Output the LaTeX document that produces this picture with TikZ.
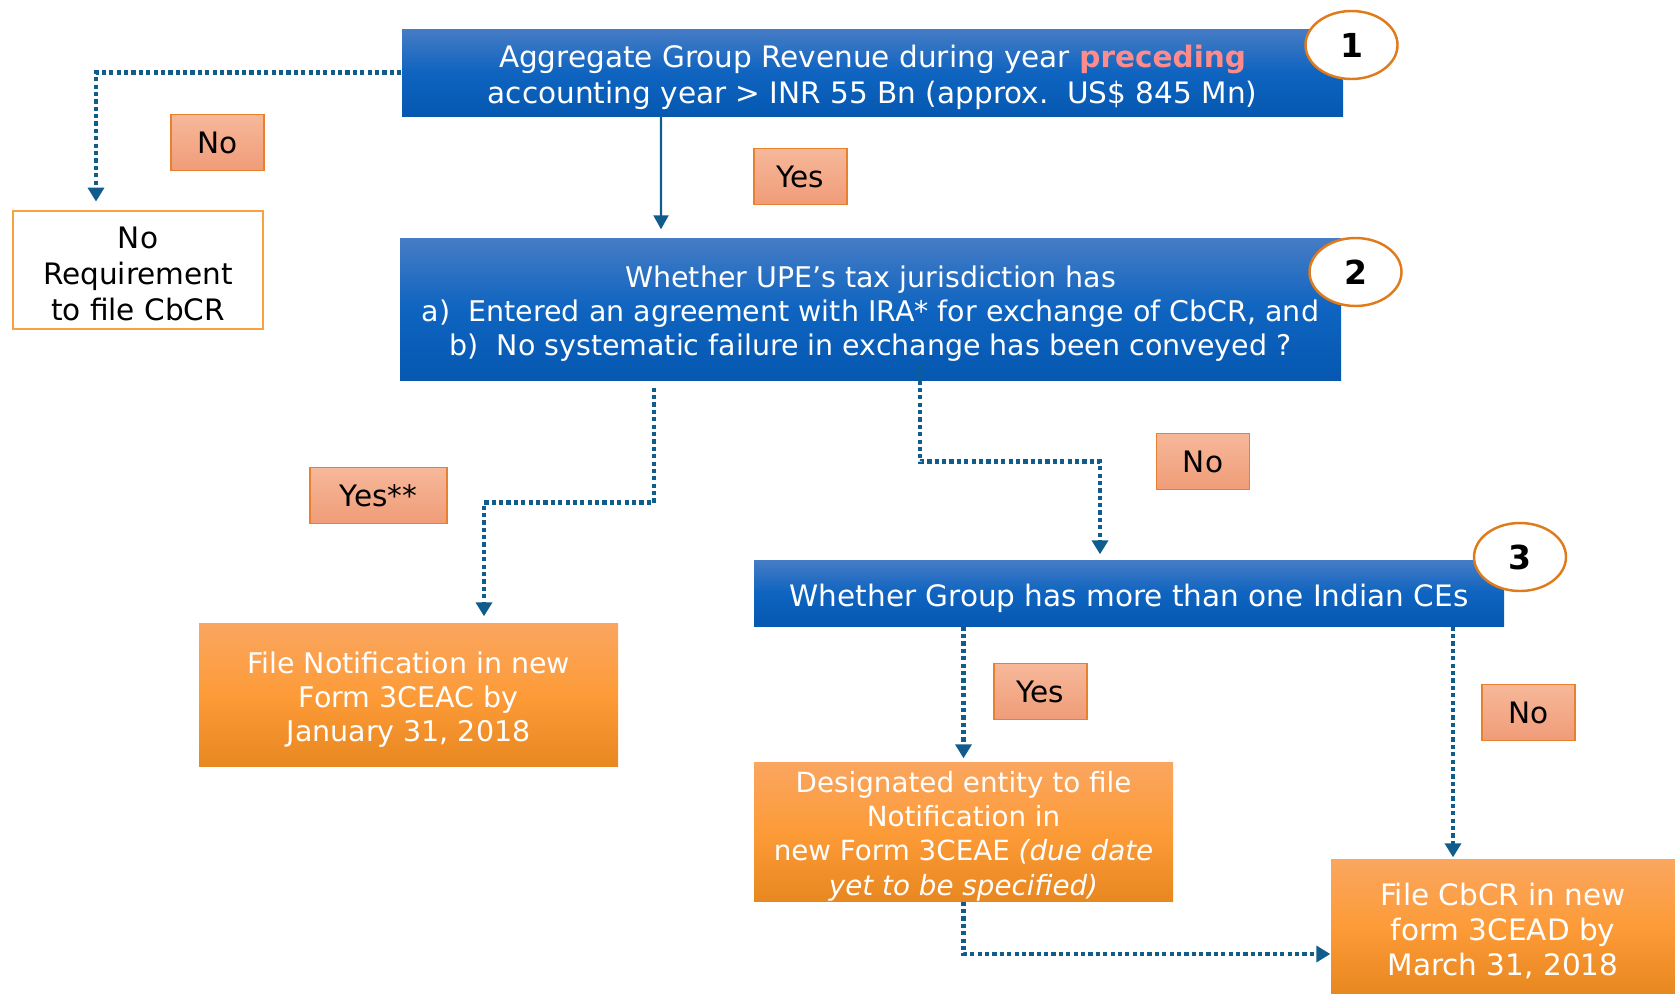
\documentclass[tikz,border=0pt]{standalone}
\usepackage{fontspec}
\setmainfont{DejaVu Sans}
\usepackage{xcolor}
\usetikzlibrary{arrows.meta, positioning, shapes.geometric, calc}

\definecolor{qtop}{RGB}{70,124,197}
\definecolor{qmid}{RGB}{14,100,192}
\definecolor{qbot}{RGB}{6,88,176}
\definecolor{otop}{RGB}{250,166,96}
\definecolor{omid}{RGB}{253,155,56}
\definecolor{obot}{RGB}{232,136,32}
\definecolor{ltop}{RGB}{246,184,154}
\definecolor{lbot}{RGB}{240,156,120}
\definecolor{lline}{RGB}{232,128,46}
\definecolor{ring}{RGB}{224,123,28}
\definecolor{noline}{RGB}{247,162,62}
\definecolor{flow}{RGB}{16,92,140}
\definecolor{hot}{RGB}{255,140,140}

% taller first line, so the text sits a little lower in its box
\newcommand{\tallline}{\rule{0pt}{1.1em}}

\begin{document}
\begin{tikzpicture}[
  qbox/.style={rectangle, top color=qtop, bottom color=qbot, middle color=qmid,
    text=white, align=center, inner sep=0pt,
    font=\fontsize{8.4}{10.2}\selectfont},
  abox/.style={rectangle, top color=otop, bottom color=obot, middle color=omid,
    text=white, align=center, inner sep=0pt,
    font=\fontsize{8.1}{9.7}\selectfont},
  lbl/.style={rectangle, draw=lline, line width=0.5pt,
    top color=ltop, bottom color=lbot,
    minimum width=0.93cm, minimum height=0.56cm, inner sep=0pt,
    font=\fontsize{8.4}{10.2}\selectfont},
  numc/.style={ellipse, draw=ring, line width=0.7pt, fill=white,
    minimum width=0.92cm, minimum height=0.68cm, inner sep=0pt,
    font=\bfseries\fontsize{9.4}{11}\selectfont},
  arr/.style={-{Triangle[length=1.4mm, width=1.5mm]}, draw=flow, line width=0.6pt},
  darr/.style={-{Triangle[length=1.4mm, width=1.6mm]}, draw=flow,
    line width=1.3pt, dash pattern=on 1.2pt off 0.9pt}
]
\useasboundingbox (0,0) rectangle (16.75,-9.93);

%% --- Question 1 ---
\node[qbox, minimum width=9.41cm, minimum height=0.87cm] (b1) at (8.725,-0.725)
  {\tallline Aggregate Group Revenue during year \textcolor{hot}{\bfseries preceding}\\
   accounting year > INR 55 Bn (approx.\ \ US\$ 845 Mn)};
\node[numc] (n1) at (13.515,-0.45) {1};

%% --- No requirement ---
\node[lbl] (no1) at (2.175,-1.425) {No};
\node[rectangle, draw=noline, line width=0.8pt, fill=white, align=center,
      minimum width=2.5cm, minimum height=1.18cm, inner sep=0pt,
      font=\fontsize{8.4}{10.3}\selectfont]
  (noreq) at (1.38,-2.70) {\rule{0pt}{1.0em}No\\Requirement\\to file CbCR};

%% --- Question 2 ---
\node[lbl] (yes1) at (8.005,-1.765) {Yes};
\node[qbox, minimum width=9.41cm, minimum height=1.42cm,
      font=\fontsize{8.1}{9.6}\selectfont] (b2) at (8.705,-3.09)
  {\tallline Whether UPE’s tax jurisdiction has\\
   a)\ \ Entered an agreement with IRA* for exchange of CbCR, and\\
   b)\ \ No systematic failure in exchange has been conveyed ?};
\node[numc] (n2) at (13.555,-2.72) {2};

%% --- Yes branch ---
\node[lbl, minimum width=1.37cm] (yes2) at (3.785,-4.955) {Yes**};
\node[abox, minimum width=4.19cm, minimum height=1.43cm] (fn) at (4.085,-6.945)
  {\tallline File Notification in new\\Form 3CEAC by\\January 31, 2018};

%% --- Question 3 ---
\node[lbl] (no2) at (12.03,-4.615) {No};
\node[qbox, minimum width=7.5cm, minimum height=0.66cm] (b3) at (11.29,-5.93)
  {\tallline Whether Group has more than one Indian CEs};
\node[numc] (n3) at (15.20,-5.57) {3};

%% --- Outcomes ---
\node[lbl] (yes3) at (10.405,-6.915) {Yes};
\node[lbl] (no3) at (15.285,-7.125) {No};
\node[abox, minimum width=4.19cm, minimum height=1.39cm,
      font=\fontsize{7.9}{9.7}\selectfont] (des) at (9.635,-8.315)
  {\tallline Designated entity to file\\Notification in\\
   new Form 3CEAE \textit{(due date}\\\textit{yet to be specified)}};
\node[abox, minimum width=3.44cm, minimum height=1.34cm,
      font=\fontsize{8.4}{10}\selectfont] (cbcr) at (15.03,-9.26)
  {\tallline File CbCR in new\\form 3CEAD by\\March 31, 2018};

%% --- Connectors ---
\draw[darr] (b1.west) -| ([xshift=-0.42cm,yshift=0.08cm]noreq.north);
\draw[arr] ([xshift=-2.115cm]b1.south) -- ([xshift=-2.095cm,yshift=0.08cm]b2.north);
\draw[darr] ([xshift=-2.165cm,yshift=-0.07cm]b2.south) -- ++(0,-1.15)
  -| ([xshift=0.755cm,yshift=0.06cm]fn.north);
\draw[darr] ([xshift=0.495cm,yshift=0.15cm]b2.south) -- ++(0,-0.96)
  -| ([xshift=-0.29cm,yshift=0.05cm]b3.north);
\draw[darr] (des.north |- b3.south) -- ([yshift=0.03cm]des.north);
\draw[darr] ([xshift=3.24cm]b3.south) -- ([xshift=3.24cm,yshift=0.01cm]b3.south |- cbcr.north);
\draw[darr] (des.south) |- ([yshift=-0.28cm]cbcr.west);

\end{tikzpicture}
\end{document}
